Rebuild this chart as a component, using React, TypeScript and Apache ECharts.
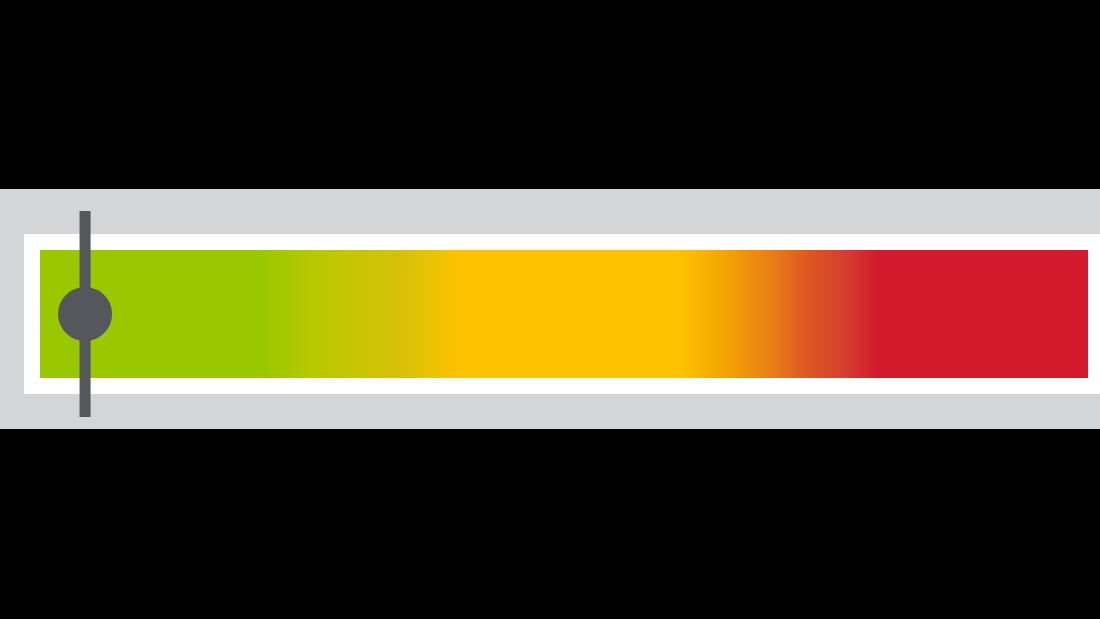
import { useEffect, useRef } from 'react';
import * as echarts from 'echarts';

// scale of the meter
const scaleMin = 0;
const scaleMax = 100;
const levelCategories = ['level'];
const levelValues = [100];
const markerValues = [4.3];

// colour bands of the bar, left to right
const bandOffsets = [0, 0.21, 0.277, 0.344, 0.4, 0.61, 0.649, 0.697, 0.735, 0.768, 0.8, 1];
const bandColors = [
  '#9ac800',
  '#9ac800',
  '#bfc800',
  '#d6c108',
  '#fdc300',
  '#fdc300',
  '#f5a800',
  '#e97f15',
  '#dc5521',
  '#d63e2f',
  '#d21a2c',
  '#d21a2c',
];

export default function App() {
  const chartRef = useRef<HTMLDivElement>(null);

  useEffect(() => {
    if (!chartRef.current) return;
    const chart = echarts.init(chartRef.current, undefined, { renderer: 'svg' });

    const option: echarts.EChartsOption = {
      animation: false,
      backgroundColor: '#000000',
      graphic: [
        {
          type: 'rect',
          z: -10,
          shape: { x: 0, y: 189, width: 1100, height: 240 },
          style: { fill: '#d3d5d7' },
        },
        {
          type: 'rect',
          z: -9,
          shape: { x: 24, y: 234, width: 1076, height: 160 },
          style: { fill: '#ffffff' },
        },
      ],
      grid: { left: 40, right: 12, top: 250, height: 128 },
      xAxis: {
        type: 'value',
        min: scaleMin,
        max: scaleMax,
        show: false,
      },
      yAxis: {
        type: 'category',
        data: levelCategories,
        show: false,
      },
      series: [
        {
          type: 'bar',
          data: levelValues,
          barWidth: 128,
          silent: true,
          itemStyle: {
            color: new echarts.graphic.LinearGradient(
              0,
              0,
              1,
              0,
              bandOffsets.map((offset, i) => ({ offset, color: bandColors[i] }))
            ),
          },
        },
        {
          type: 'scatter',
          data: markerValues.map((v) => [v, levelCategories[0]]),
          symbol: 'rect',
          symbolSize: [11, 206],
          itemStyle: { color: '#55575d', opacity: 1 },
          z: 5,
        },
        {
          type: 'scatter',
          data: markerValues.map((v) => [v, levelCategories[0]]),
          symbol: 'circle',
          symbolSize: 54,
          itemStyle: { color: '#55575d', opacity: 1 },
          z: 6,
        },
      ],
    };

    chart.setOption(option);
    return () => {
      chart.dispose();
    };
  }, []);

  return (
    <div
      style={{
        position: 'fixed',
        left: 0,
        top: 0,
        width: '1100px',
        height: '619px',
        background: '#000',
      }}
    >
      <div ref={chartRef} style={{ width: '1100px', height: '619px' }} />
    </div>
  );
}
